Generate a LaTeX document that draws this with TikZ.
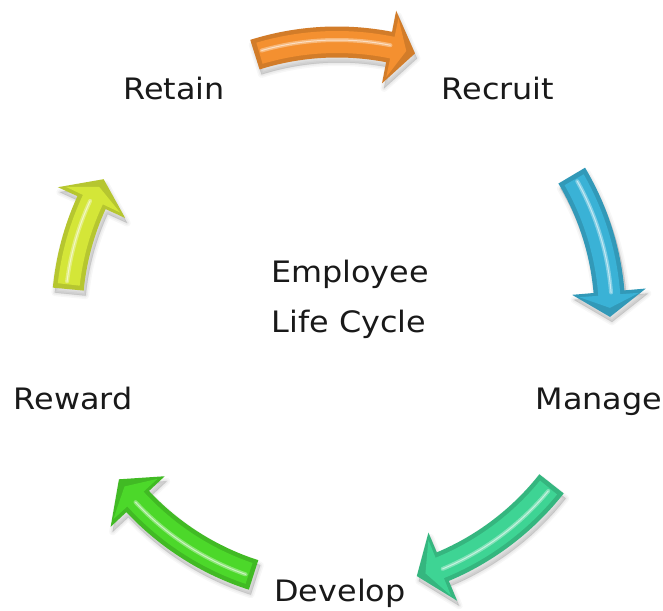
\documentclass[tikz,border=0pt]{standalone}
\usepackage{fontspec}
\setmainfont{DejaVu Sans}[FakeStretch=1.08]
\definecolor{cOrange}{RGB}{244,144,48}
\definecolor{cBlue}{RGB}{58,178,214}
\definecolor{cTeal}{RGB}{62,212,148}
\definecolor{cGreen}{RGB}{76,216,42}
\definecolor{cYellow}{RGB}{212,230,56}
% #1 colour, #2 tail angle, #3 head-base angle, #4 tip angle, #5 mid radius
\newcommand{\cyclearrow}[5]{%
 \pgfmathsetmacro\cyRo{#5+15.5}\pgfmathsetmacro\cyRi{#5-15.5}%
 \pgfmathsetmacro\cyHo{#5+37}\pgfmathsetmacro\cyHi{#5-37}%
 \pgfmathsetmacro\cyro{#5+11}\pgfmathsetmacro\cyri{#5-11}%
 \pgfmathsetmacro\cyho{#5+30}\pgfmathsetmacro\cyhi{#5-30}%
 \pgfmathsetmacro\cyT{#2-1.0}\pgfmathsetmacro\cyB{#3-0.7}\pgfmathsetmacro\cyP{#4+1.9}%
 \pgfmathsetmacro\cyL{#5+2}\pgfmathsetmacro\cyLT{#2-1.6}\pgfmathsetmacro\cyLB{#3-0.2}%
 \begin{scope}[shift={(337,295)}]
  \foreach \cyw/\cyo in {7/0.03,4/0.04,1/0.06}{
   \fill[black,opacity=\cyo,shift={(2,-5)}]
    [draw=black,line width=\cyw pt,draw opacity=\cyo,line join=round]
    (#2:\cyRo pt) arc[start angle=#2,end angle=#3,radius=\cyRo pt]
    -- (#3:\cyHo pt) -- (#4:#5 pt) -- (#3:\cyHi pt) -- (#3:\cyRi pt)
    arc[start angle=#3,end angle=#2,radius=\cyRi pt] -- cycle;}
  \fill[#1!86!black]
    (#2:\cyRo pt) arc[start angle=#2,end angle=#3,radius=\cyRo pt]
    -- (#3:\cyHo pt) -- (#4:#5 pt) -- (#3:\cyHi pt) -- (#3:\cyRi pt)
    arc[start angle=#3,end angle=#2,radius=\cyRi pt] -- cycle;
  \fill[#1]
    (\cyT:\cyro pt) arc[start angle=\cyT,end angle=\cyB,radius=\cyro pt]
    -- (\cyB:\cyho pt) -- (\cyP:#5 pt) -- (\cyB:\cyhi pt) -- (\cyB:\cyri pt)
    arc[start angle=\cyB,end angle=\cyT,radius=\cyri pt] -- cycle;
  \draw[#1!55!white,opacity=0.8,line width=4pt,line cap=round]
    (\cyLT:\cyL pt) arc[start angle=\cyLT,end angle=\cyLB,radius=\cyL pt];
  \draw[white,opacity=0.55,line width=1pt,line cap=round]
    (\cyLT:\cyL pt) arc[start angle=\cyLT,end angle=\cyLB,radius=\cyL pt];
 \end{scope}}
\tikzset{lbl/.style={anchor=base,inner sep=0pt,text=black!90,font=\fontsize{29.5}{35}\selectfont}}
\begin{document}
\begin{tikzpicture}[x=1pt,y=1pt]
 \useasboundingbox (0,0) rectangle (663,610);
 \fill[white] (0,0) rectangle (663,610);
 \cyclearrow{cOrange}{107.5}{79}{73.4}{273}
 \cyclearrow{cBlue}{30.7}{4.9}{-0.4}{273}
 \cyclearrow{cTeal}{-38.2}{-67.2}{-73}{273}
 \cyclearrow{cGreen}{-107.8}{-136.9}{-143}{273}
 \cyclearrow{cYellow}{174.5}{155.4}{149.8}{270}
 \node[lbl] (retain) at (174,510) {Retain};
 \node[lbl] (recruit) at (498,510) {Recruit};
 \node[lbl] (manage) at (599,200) {Manage};
 \node[lbl] (develop) at (340,9) {Develop};
 \node[lbl] (reward) at (73,200) {Reward};
 \node[lbl] (employee) at (350,327) {Employee};
 \node[lbl] (lifecycle) at (349,277) {Life Cycle};
\end{tikzpicture}
\end{document}
